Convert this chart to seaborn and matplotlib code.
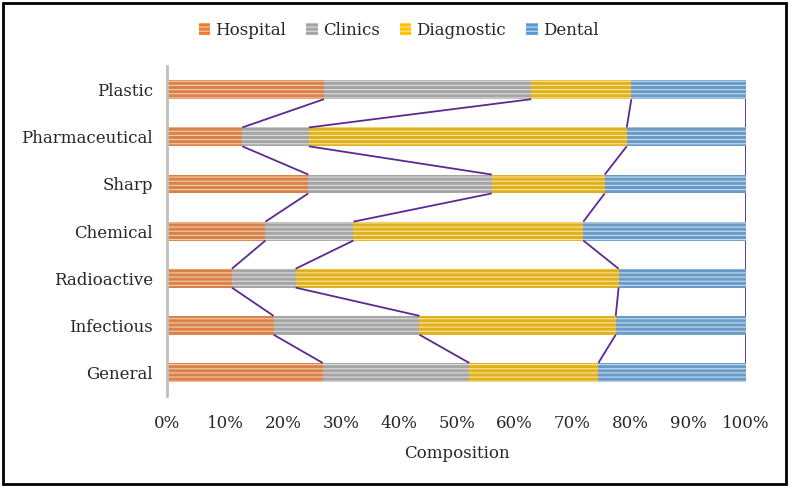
import numpy as np
import pandas as pd
import matplotlib
matplotlib.use("Agg")
import matplotlib.pyplot as plt
import matplotlib.patches as mpatches
import seaborn as sns

# waste composition by source (%)
categories = ['Plastic', 'Pharmaceutical', 'Sharp', 'Chemical', 'Radioactive', 'Infectious', 'General']
hospital = [27.1, 13.0, 24.4, 17.0, 11.2, 18.4, 26.9]
clinics = [35.8, 11.5, 31.7, 15.2, 11.0, 25.2, 25.3]
diagnostic = [17.3, 54.9, 19.5, 39.7, 55.8, 33.9, 22.3]
dental = [19.8, 20.6, 24.4, 28.1, 22.0, 22.5, 25.5]

series = ['Hospital', 'Clinics', 'Diagnostic', 'Dental']
colors = ['#ED7D31', '#A5A5A5', '#FFC000', '#5B9BD5']
stripes = ['#F9CBAD', '#DEDEDE', '#FFE699', '#C5DCF0']

df = pd.DataFrame({'Waste': categories, 'Hospital': hospital, 'Clinics': clinics,
                   'Diagnostic': diagnostic, 'Dental': dental})
cum = df[series].cumsum(axis=1)

sns.set_style("white")
plt.rcParams['font.family'] = ['DejaVu Serif']
plt.rcParams['hatch.linewidth'] = 0.8

fig = plt.figure(figsize=(7.89, 4.87), dpi=100)
ax = fig.add_axes([0.2117, 0.187, 0.7338, 0.677])

# stacked bars: draw cumulative totals from the right-most series down
for name, c, s in reversed(list(zip(series, colors, stripes))):
    sns.barplot(x=cum[name], y=df['Waste'], orient='h', color=c, width=0.4,
                hatch='----', edgecolor=s, linewidth=0, ax=ax, zorder=2)

# series lines joining the segment boundaries of neighbouring bars
half = 0.2
for name in series:
    vals = cum[name].values
    for i in range(len(categories) - 1):
        ax.plot([vals[i], vals[i + 1]], [i + half, i + 1 - half],
                color='#5A2A92', lw=1.3, zorder=3, solid_capstyle='butt')

ax.set_xlim(0, 100)
ax.set_ylim(6.5, -0.5)
ax.set_xticks(np.arange(0, 101, 10))
ax.set_xticklabels([f'{v}%' for v in range(0, 101, 10)])
ax.set_xlabel('Composition', fontsize=12, labelpad=9)
ax.set_ylabel('')
ax.tick_params(axis='both', labelsize=12, length=0)
ax.tick_params(axis='x', pad=14)
ax.tick_params(axis='y', pad=10)
for side in ['top', 'right', 'bottom']:
    ax.spines[side].set_visible(False)
ax.spines['left'].set_color('#BFBFBF')
ax.spines['left'].set_linewidth(2)

handles = [mpatches.Patch(facecolor=c, hatch='----', edgecolor=s, linewidth=0, label=n)
           for n, c, s in zip(series, colors, stripes)]
fig.legend(handles=handles, loc='center', bbox_to_anchor=(0.505, 0.938), ncol=4,
           frameon=False, fontsize=12, handlelength=0.7, handleheight=0.7,
           handletextpad=0.3, columnspacing=1.2)

# black frame round the whole picture
fig.add_artist(mpatches.Rectangle((0.004, 0.006), 0.992, 0.988, transform=fig.transFigure,
                                  fill=False, edgecolor='black', linewidth=2))

fig.savefig('out.png', dpi=100)
